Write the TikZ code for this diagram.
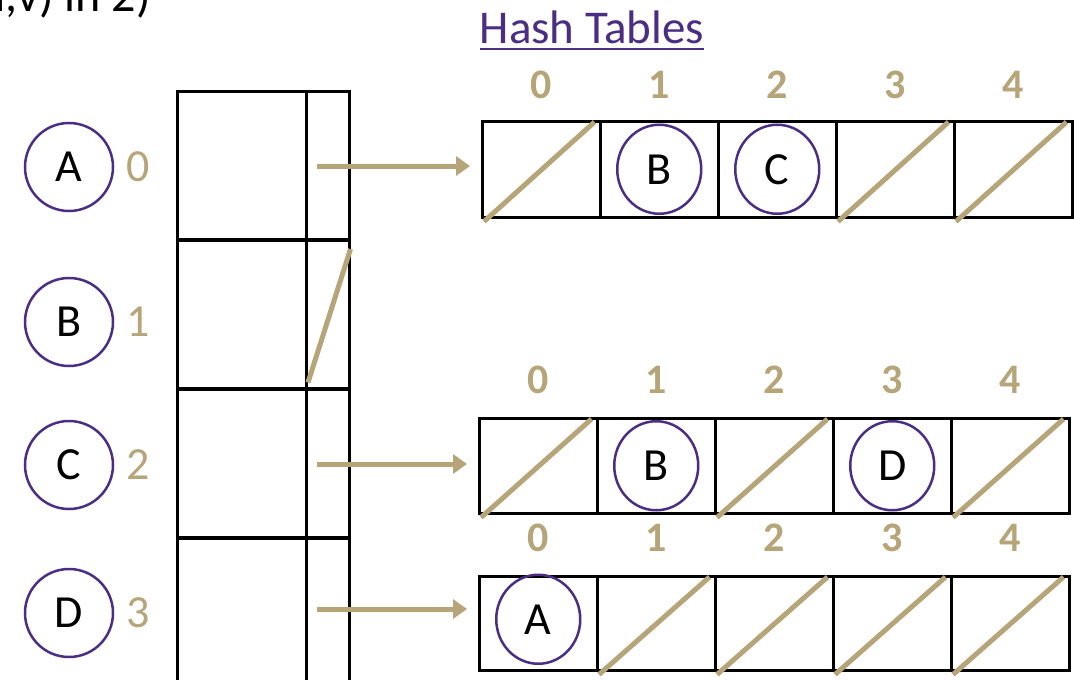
\documentclass[tikz,border=0pt]{standalone}
\usepackage{fontspec}
\setmainfont{Carlito}
\usetikzlibrary{arrows.meta,shapes.geometric,calc}
\definecolor{uwgold}{HTML}{B7A57A}
\definecolor{uwpurple}{HTML}{4B2E83}
\begin{document}
\begin{tikzpicture}[x=1pt,y=-1pt,
  vtx/.style={draw=uwpurple,line width=2.5pt,circle,minimum size=88pt,inner sep=0pt,font=\fontsize{46}{46}\selectfont},
  hvtx/.style={draw=uwpurple,line width=2.5pt,ellipse,minimum width=84pt,minimum height=89pt,inner sep=0pt,font=\fontsize{46}{46}\selectfont},
  idx/.style={text=uwgold,font=\fontsize{46}{46}\selectfont,inner sep=0pt},
  hdr/.style={text=uwgold,font=\fontsize{42}{42}\selectfont\bfseries,inner sep=0pt},
  lcell/.style={draw,line width=2.5pt,rectangle,minimum width=129pt,minimum height=148pt,inner sep=0pt,anchor=north west},
  rcell/.style={draw,line width=2.5pt,rectangle,minimum width=43pt,minimum height=148pt,inner sep=0pt,anchor=north west},
  hcell/.style={draw,line width=2.5pt,rectangle,minimum width=118pt,inner sep=0pt,anchor=north west},
  slash/.style={draw=uwgold,line width=5pt},
  ptr/.style={draw=uwgold,line width=5pt,-{Triangle[length=14pt,width=19pt]},shorten >=11pt}
]
\useasboundingbox (0,0) rectangle (1074,680);

% partially visible title text (cut off by the top edge)
\node[anchor=base east,inner sep=0pt,font=\fontsize{48}{48}\selectfont] (ttl) at (151,12) {(u,v) in 2)};

% Hash Tables heading
\node[anchor=base,inner sep=0pt,text=uwpurple,font=\fontsize{47}{47}\selectfont] (hthead) at (592,43) {Hash Tables};
\draw[uwpurple,line width=2pt] (hthead.base west |- 0,49) -- (hthead.base east |- 0,49);

% vertices and indices
\foreach \n/\y/\i in {A/167/0,B/322/1,C/465/2,D/613/3}{
  \node[vtx] (v\n) at (69,\y) {\n};
  \node[idx] (i\n) at (138,\y) {\i};
}

% left table rows
\foreach \r/\t in {0/90,1/239,2/388,3/537}{
  \node[lcell] (L\r) at (176,\t) {};
  \node[rcell] (R\r) at (305,\t) {};
}
\draw[slash] ($(R1.north east)+(0,10)$) -- ($(R1.south west)+(3,-7)$);

% hash tables
\foreach \t/\x/\top/\h/\hy in {1/481/120/96/85,2/478/417/95/380,3/478/575/94/538}{
  \foreach \j in {0,...,4}{
    \node[hcell,minimum height=\h pt] (h\t c\j) at (\x+118*\j,\top) {};
    \node[hdr] (hd\t c\j) at (h\t c\j.center |- 0,\hy) {\j};
  }
}

% slashes in empty slots
\foreach \t/\j in {1/0,1/3,1/4,2/0,2/2,2/4,3/1,3/2,3/3,3/4}{
  \draw[slash] ($(h\t c\j.south west)+(3,3)$) -- ($(h\t c\j.north east)+(-7,2)$);
}

% entries
\node[hvtx] (e1B) at (h1c1.center) {B};
\node[hvtx] (e1C) at (h1c2.center) {C};
\node[hvtx] (e2B) at (h2c1.center) {B};
\node[hvtx] (e2D) at (h2c3.center) {D};
\node[hvtx] (e3A) at ($(h3c0.center)+(0,-4)$) {A};

% pointers
\coordinate (p0) at (317,166);
\coordinate (p2) at (317,464);
\coordinate (p3) at (317,609);
\draw[ptr] (p0) -- (p0 -| h1c0.west);
\draw[ptr] (p2) -- (p2 -| h2c0.west);
\draw[ptr] (p3) -- (p3 -| h3c0.west);
\end{tikzpicture}
\end{document}
